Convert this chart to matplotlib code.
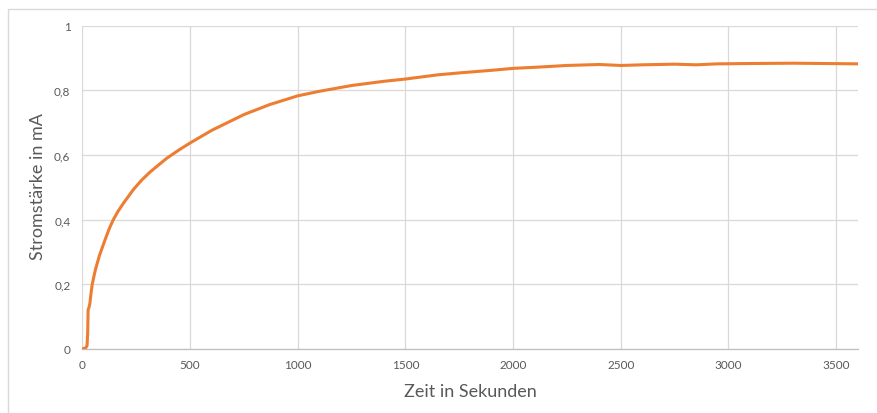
import matplotlib
matplotlib.use("Agg")
import matplotlib.pyplot as plt
from matplotlib.patches import Rectangle
from matplotlib.ticker import FuncFormatter

# Zeit in s, Stromstärke in mA
zeit = [0, 15, 22, 25, 27, 31, 35, 40, 46, 55, 62, 79, 95, 108, 125, 144,
        165, 190, 237, 275, 314, 350, 392, 454, 500, 600, 750, 870, 1000, 1100,
        1250, 1400, 1500, 1650, 1750, 1900, 2000, 2120, 2250, 2400, 2500, 2600,
        2750, 2850, 2950, 3100, 3300, 3450, 3600]
strom = [0, 0.003, 0.01, 0.05, 0.122, 0.128, 0.14, 0.17, 0.2, 0.228, 0.248,
         0.288, 0.318, 0.342, 0.372, 0.4, 0.425, 0.45, 0.493, 0.522, 0.547,
         0.567, 0.59, 0.618, 0.637, 0.676, 0.725, 0.756, 0.783, 0.797,
         0.815, 0.828, 0.835, 0.848, 0.854, 0.862, 0.868, 0.872, 0.877, 0.880,
         0.877, 0.879, 0.881, 0.879, 0.882, 0.883, 0.884, 0.883, 0.882]
x_ticks = [0, 500, 1000, 1500, 2000, 2500, 3000, 3500]
y_ticks = [0, 0.2, 0.4, 0.6, 0.8, 1.0]

plt.rcParams["font.family"] = ["Lato", "DejaVu Sans"]
grey_txt = "#595959"
grid_c = "#D9D9D9"

fig = plt.figure(figsize=(8.78, 4.14), dpi=100)
fig.patches.append(Rectangle((8 / 878, -0.1), 1.2, (414 - 10) / 414 + 0.1,
                             transform=fig.transFigure, fill=False,
                             ec=grid_c, lw=1.0))
ax = fig.add_axes([82.3 / 878, 64 / 414, 775.4 / 878, 323.3 / 414])

ax.plot(zeit, strom, color="#ED7D31", lw=2.2, solid_joinstyle="round", zorder=3)

ax.set_xlim(0, 3600)
ax.set_ylim(0, 1)
ax.set_xticks(x_ticks)
ax.set_yticks(y_ticks)
ax.yaxis.set_major_formatter(FuncFormatter(
    lambda v, p: ("%g" % round(v, 1)).replace(".", ",")))
ax.grid(True, color=grid_c, lw=0.9, zorder=0)
for s in ["top", "right", "left"]:
    ax.spines[s].set_visible(False)
ax.spines["bottom"].set_color("#BFBFBF")
ax.spines["bottom"].set_linewidth(0.9)
ax.tick_params(length=0, labelsize=8.5, labelcolor=grey_txt)
ax.tick_params(axis="y", pad=8.5)
ax.tick_params(axis="x", pad=7)

fig.text(470 / 878, 1 - 392 / 414, "Zeit in Sekunden", fontsize=13,
         color=grey_txt, ha="center", va="center")
fig.text(38 / 878, 1 - 187 / 414, "Stromstärke in mA", fontsize=13,
         color=grey_txt, ha="center", va="center", rotation=90)

fig.savefig("out.png", dpi=100)
